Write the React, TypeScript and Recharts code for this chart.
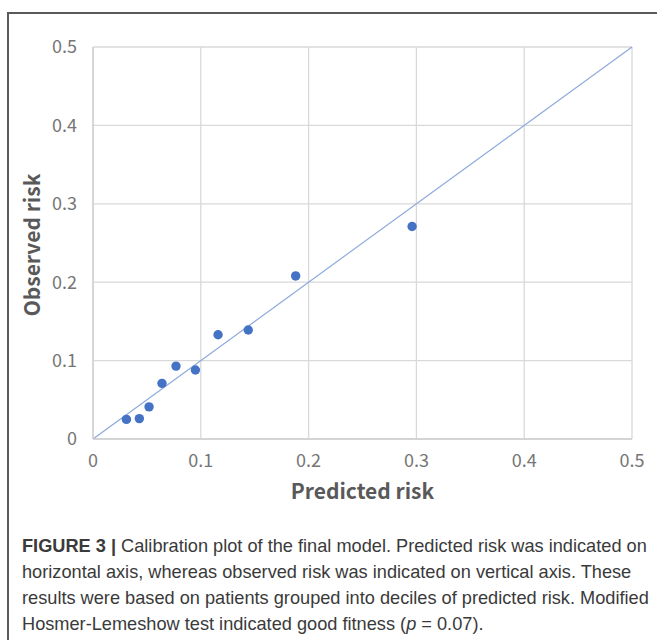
import React from 'react';
import { ScatterChart, Scatter, XAxis, YAxis, CartesianGrid, ReferenceLine, Label } from 'recharts';

const predictedRisk = [0.031, 0.043, 0.052, 0.064, 0.077, 0.095, 0.116, 0.144, 0.188, 0.296];
const observedRisk = [0.025, 0.026, 0.041, 0.071, 0.093, 0.088, 0.133, 0.139, 0.208, 0.271];
const axisTicks = [0, 0.1, 0.2, 0.3, 0.4, 0.5];
const diagonal = [0, 0.5];
const xTitle = 'Predicted risk';
const yTitle = 'Observed risk';
const captionLines = [
  'Calibration plot of the final model. Predicted risk was indicated on',
  'horizontal axis, whereas observed risk was indicated on vertical axis. These',
  'results were based on patients grouped into deciles of predicted risk. Modified',
];

const points = predictedRisk.map((x, i) => ({ x, y: observedRisk[i] }));
const fmt = (v: number) => (v === 0 ? '0' : v.toFixed(1));

const tickStyle = { fill: '#767676', fontSize: 18, fontFamily: '"Noto Sans CJK SC", "Noto Sans", sans-serif' };
const titleFont = '"Noto Sans CJK SC", "Noto Sans", sans-serif';

const Dot = (props: any) => <circle cx={props.cx} cy={props.cy} r={4.7} fill="#4472C4" />;

export default function App() {
  return (
    <div style={{ position: 'absolute', left: 0, top: 0, width: 657, height: 641, background: '#fff', overflow: 'hidden' }}>
      <div style={{ position: 'absolute', left: 7, top: 12, width: 700, height: 626, borderTop: '2px solid #5a5a5a', borderLeft: '2px solid #5a5a5a' }} />
      <div style={{ position: 'absolute', left: 0, top: 0 }}>
        <ScatterChart width={657} height={520} margin={{ top: 47, right: 25, bottom: 0, left: 0 }}>
          <CartesianGrid stroke="#d9d9d9" strokeWidth={1.3} horizontalValues={axisTicks} verticalValues={axisTicks} />
          <XAxis
            type="number"
            dataKey="x"
            domain={[0, 0.5]}
            ticks={axisTicks}
            tickFormatter={fmt}
            height={81}
            tickSize={0}
            tickMargin={15}
            axisLine={{ stroke: '#cfcfcf', strokeWidth: 1.3 }}
            tick={tickStyle}
            interval={0}
          >
            <Label
              content={(p: any) => {
                const vb = p.viewBox;
                return (
                  <text x={vb.x + vb.width / 2} y={vb.y + 51} textAnchor="middle" dominantBaseline="central" fill="#595959" fontSize={21} fontWeight="bold" fontFamily={titleFont}>
                    {xTitle}
                  </text>
                );
              }}
            />
          </XAxis>
          <YAxis
            type="number"
            dataKey="y"
            domain={[0, 0.5]}
            ticks={axisTicks}
            tickFormatter={fmt}
            width={93}
            tickSize={0}
            tickMargin={16}
            axisLine={{ stroke: '#cfcfcf', strokeWidth: 1.3 }}
            tick={tickStyle}
            interval={0}
          >
            <Label
              content={(p: any) => {
                const vb = p.viewBox;
                const cx = vb.x + 31;
                const cy = vb.y + vb.height / 2 + 2;
                return (
                  <text x={cx} y={cy} transform={`rotate(-90 ${cx} ${cy})`} textAnchor="middle" dominantBaseline="central" fill="#595959" fontSize={21} fontWeight="bold" fontFamily={titleFont}>
                    {yTitle}
                  </text>
                );
              }}
            />
          </YAxis>
          <ReferenceLine
            segment={[{ x: diagonal[0], y: diagonal[0] }, { x: diagonal[1], y: diagonal[1] }]}
            stroke="#8eaadb"
            strokeWidth={1.2}
            ifOverflow="visible"
          />
          <Scatter data={points} shape={Dot} isAnimationActive={false} />
        </ScatterChart>
      </div>
      <div
        style={{
          position: 'absolute',
          left: 22,
          top: 533,
          fontFamily: '"Liberation Sans", Arial, sans-serif',
          fontSize: 18.2,
          lineHeight: '26px',
          color: '#3a3a3a',
          whiteSpace: 'nowrap',
        }}
      >
        <span style={{ fontWeight: 'bold' }}>FIGURE 3 | </span>
        {captionLines[0]}
        <br />
        {captionLines[1]}
        <br />
        {captionLines[2]}
        <br />
        Hosmer-Lemeshow test indicated good fitness (<i>p</i> = 0.07).
      </div>
    </div>
  );
}
